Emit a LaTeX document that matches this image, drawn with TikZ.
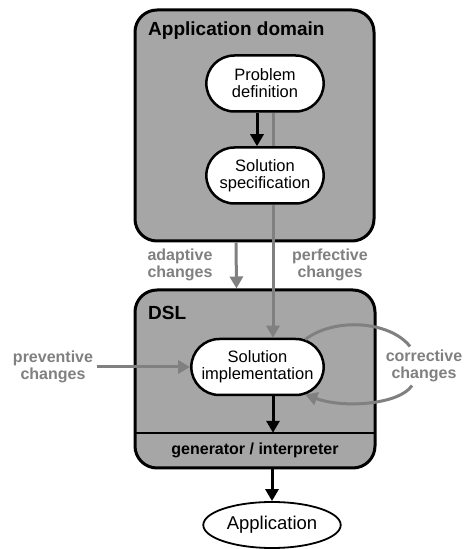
\documentclass[tikz,border=0pt]{standalone}
\usepackage{fontspec}
\setmainfont{Liberation Sans}
\usetikzlibrary{shapes.misc,shapes.geometric,arrows.meta}
\definecolor{boxgray}{RGB}{166,166,166}
\definecolor{chggray}{RGB}{128,128,128}

\begin{document}
\begin{tikzpicture}[x=1pt,y=1pt,
  area/.style={draw,line width=3pt,fill=boxgray,rounded corners=22pt},
  task/.style={rounded rectangle,draw,line width=2.5pt,fill=white,align=center,
    font=\fontsize{16.5}{17}\selectfont},
  title/.style={anchor=base west,inner sep=0pt,font=\fontsize{19}{21}\selectfont\bfseries},
  change/.style={align=center,text=chggray,font=\fontsize{16}{17}\selectfont\bfseries},
  flow/.style={line width=3pt,-{Triangle[width=13pt,length=12pt]}},
  chgflow/.style={flow,chggray}]

  \useasboundingbox (0,0) rectangle (465,549);

  % bereiche
  \node[area,minimum width=239pt,minimum height=231pt] (appdom) at (254.5,423.5) {};
  \node[area,minimum width=240pt,minimum height=178pt] (dsl) at (255,170) {};
  \node[title] at (148,513) {Application domain};
  \node[title] at (148,229) {DSL};

  % aufgaben
  \node[task,minimum width=124pt,minimum height=56pt] (prob) at (265,465.5) {Problem\\definition};
  \node[task,minimum width=124pt,minimum height=56pt] (spec) at (265,373.5) {Solution\\specification};
  \node[task,minimum width=139pt,minimum height=56pt] (impl) at (257.5,182) {Solution\\implementation};

  % generator
  \node[minimum width=240pt,minimum height=35pt,font=\fontsize{16}{17}\selectfont\bfseries] (gen) at (255,98.5) {generator / interpreter};
  \draw[line width=1.5pt] (gen.north west) -- (gen.north east);

  % ergebnis
  \node[ellipse,draw,line width=1.8pt,minimum width=130pt,minimum height=46pt,
    font=\fontsize{18.5}{20}\selectfont] (app) at (272,24) {Application};

  % arten von änderungen
  \node[change] (adapt) at (180,284) {adaptive\\changes};
  \node[change] (perf) at (330,284) {perfective\\changes};
  \node[change] (prev) at (53,182) {preventive\\changes};
  \node[change] (corr) at (424,183) {corrective\\changes};

  % ablauf
  \draw[flow] ([xshift=-8pt]prob.south) -- ([xshift=-8pt]spec.north);
  \draw[flow] ([xshift=15.5pt]impl.south) -- ([xshift=18pt]gen.north);
  \draw[flow] (app.north |- dsl.south) -- (app.north);

  % änderungen
  \draw[chggray,line width=3pt] ([xshift=8pt]prob.south) -- ([xshift=8pt]spec.north);
  \draw[chgflow] ([xshift=8pt]spec.south) -- ([xshift=15.5pt]impl.north);
  \draw[chgflow] ([xshift=-18.5pt]appdom.south) -- ([xshift=-18.5pt]dsl.north);
  \draw[chgflow] (prev.east) -- (impl.west);
  \draw[chggray,line width=3pt] (impl.30) .. controls (335,232) and (390,228) .. ([xshift=-14pt]corr.north);
  \draw[chgflow] ([xshift=-12pt]corr.south) .. controls (400,145) and (345,140) .. (impl.-30);
\end{tikzpicture}
\end{document}
